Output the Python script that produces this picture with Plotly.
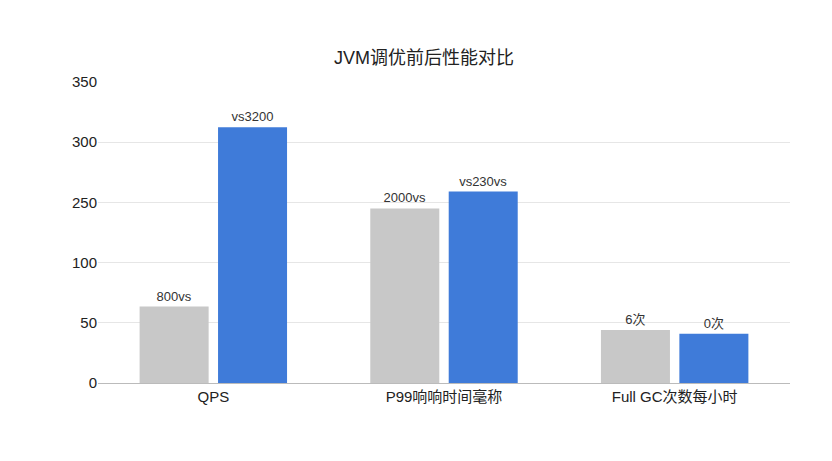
import plotly.graph_objects as go

categories = ["QPS", "P99响响时间毫称", "Full GC次数每小时"]
before_vals = [1.27, 2.90, 0.88]
after_vals = [4.25, 3.18, 0.82]
before_labels = ["800vs", "2000vs", "6次"]
after_labels = ["vs3200", "vs230vs", "0次"]
tick_vals = [0, 1, 2, 3, 4, 5]
tick_text = ["0", "50", "100", "250", "300", "350"]

fig = go.Figure()
fig.add_bar(x=categories, y=before_vals, text=before_labels, textposition="outside",
            marker_color="#c8c8c8", name="调优前", cliponaxis=False,
            textfont=dict(size=13, color="#333"))
fig.add_bar(x=categories, y=after_vals, text=after_labels, textposition="outside",
            marker_color="#3f7bd9", name="调优后", cliponaxis=False,
            textfont=dict(size=13, color="#333"))
fig.update_layout(
    width=832, height=461, template="none", showlegend=False,
    title=dict(text="JVM调优前后性能对比", x=0.5, y=0.905, font=dict(size=18, color="#222")),
    font=dict(family="Liberation Sans, Noto Sans CJK SC, Arial", size=14, color="#222"),
    margin=dict(l=90, r=50, t=74, b=86),
    bargap=0.32, bargroupgap=0.12,
    plot_bgcolor="white", paper_bgcolor="white",
)
fig.update_yaxes(range=[0, 5], tickvals=tick_vals, ticktext=tick_text,
                 showgrid=True, gridcolor="#e6e6e6", zeroline=False, ticks="",
                 tickfont=dict(size=15))
fig.update_xaxes(showline=True, linecolor="#bbb", ticks="", tickfont=dict(size=15))
fig.write_html("out.html")
